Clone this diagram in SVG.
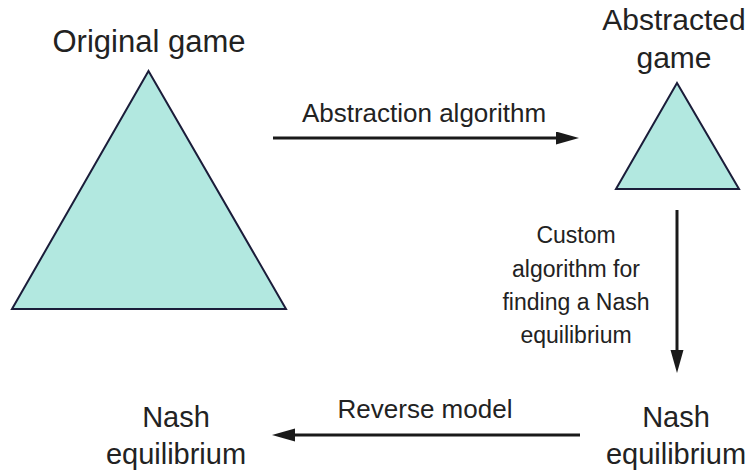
<svg xmlns="http://www.w3.org/2000/svg" width="755" height="473" viewBox="0 0 755 473">
  <style>
    .bg { fill: #ffffff; }
    .tri { fill: #b2e8e0; stroke: #1b1d3a; stroke-width: 2; stroke-linejoin: miter; }
    .lbl { font-family: "Liberation Sans", Arial, sans-serif; fill: #222222; text-anchor: middle; }
    .big { font-size: 30px; }
    .nash { font-size: 29px; }
    .mid { font-size: 26px; }
    .sm { font-size: 23px; }
    .conn { stroke: #1a1a1a; stroke-width: 3; fill: none; marker-end: url(#ah); }
  </style>
  <defs>
    <marker id="ah" markerUnits="userSpaceOnUse" markerWidth="24" markerHeight="14" refX="3" refY="6.5" orient="auto">
      <path d="M0,0 L23,6.5 L0,13 z" fill="#1a1a1a"/>
    </marker>
  </defs>
  <rect class="bg" x="0" y="0" width="755" height="473"/>

  <g id="original-game">
    <polygon class="tri" points="148.5,71 12,309 286,309"/>
    <text class="lbl" style="font-size:31px" x="149" y="52">Original game</text>
  </g>

  <g id="abstracted-game">
    <polygon class="tri" points="677,83 616,189 739,189"/>
    <text class="lbl big" x="674" y="30">Abstracted</text>
    <text class="lbl big" x="674" y="68">game</text>
  </g>

  <g id="nash-right">
    <text class="lbl nash" x="676" y="427">Nash</text>
    <text class="lbl nash" x="676" y="464">equilibrium</text>
  </g>

  <g id="nash-left">
    <text class="lbl nash" x="176" y="427">Nash</text>
    <text class="lbl nash" x="176" y="464">equilibrium</text>
  </g>

  <g id="connectors">
    <line class="conn" x1="273" y1="138" x2="559" y2="138"/>
    <text class="lbl mid" x="424" y="122">Abstraction algorithm</text>

    <line class="conn" x1="677" y1="210" x2="677" y2="353"/>
    <text class="lbl sm" x="576" y="243">Custom</text>
    <text class="lbl sm" x="576" y="277">algorithm for</text>
    <text class="lbl sm" x="576" y="310">finding a Nash</text>
    <text class="lbl sm" x="576" y="343">equilibrium</text>

    <line class="conn" x1="580" y1="435" x2="292" y2="435"/>
    <text class="lbl mid" x="425" y="418">Reverse model</text>
  </g>
</svg>
